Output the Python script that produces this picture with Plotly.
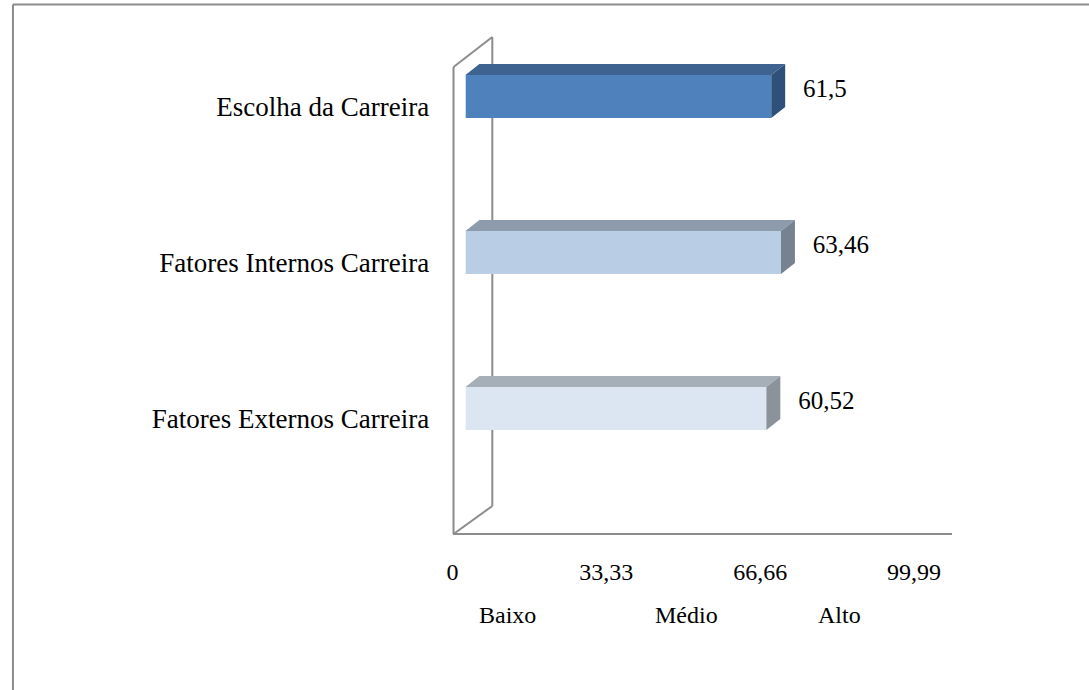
import plotly.graph_objects as go

W, H = 1089, 690

categories = ["Escolha da Carreira", "Fatores Internos Carreira", "Fatores Externos Carreira"]
values = [61.5, 63.46, 60.52]
value_labels = ["61,5", "63,46", "60,52"]
tick_values = [0, 33.33, 66.66, 99.99]
tick_labels = ["0", "33,33", "66,66", "99,99"]
level_labels = ["Baixo", "Médio", "Alto"]

front_colors = ["#4F81BD", "#B9CDE5", "#DCE6F2"]
top_colors = ["#3E6390", "#8D9BAD", "#A6AEB8"]
side_colors = ["#2F5179", "#76828F", "#8B9299"]

FONT = "Liberation Serif"
GRAY = "#8C8C8C"


def px(x):
    return x / W


def py(y):
    return 1 - y / H


# geometry of the pseudo-3D view
bar_w = 0.276        # bar thickness in category units
ddx = 2.8            # depth offset along value axis (data units)
ddy = 0.0705         # depth offset along category axis (category units)

fig = go.Figure()

pos = list(range(len(categories)))

fig.add_trace(go.Bar(
    x=values, y=pos, orientation="h", width=bar_w,
    marker=dict(color=front_colors, line=dict(width=0)),
    hoverinfo="skip", showlegend=False,
))

for i, v in enumerate(values):
    y0 = i - bar_w / 2
    y1 = i + bar_w / 2
    # top face
    fig.add_trace(go.Scatter(
        x=[0, v, v + ddx, ddx, 0], y=[y0, y0, y0 - ddy, y0 - ddy, y0],
        mode="lines", fill="toself", fillcolor=top_colors[i],
        line=dict(width=0, color=top_colors[i]), hoverinfo="skip", showlegend=False,
    ))
    # side face
    fig.add_trace(go.Scatter(
        x=[v, v + ddx, v + ddx, v, v], y=[y0, y0 - ddy, y1 - ddy, y1, y0],
        mode="lines", fill="toself", fillcolor=side_colors[i],
        line=dict(width=0, color=side_colors[i]), hoverinfo="skip", showlegend=False,
    ))

# value labels
fig.add_trace(go.Scatter(
    x=[v + ddx + 3.6 for v in values], y=[i - 0.035 for i in pos],
    mode="text", text=value_labels, textposition="middle right",
    textfont=dict(family=FONT, size=25, color="black"),
    cliponaxis=False, hoverinfo="skip", showlegend=False,
))

# dummy traces to register tick axes
fig.add_trace(go.Scatter(x=[0], y=[0], xaxis="x2", yaxis="y", mode="markers",
                         marker=dict(opacity=0), hoverinfo="skip", showlegend=False))
fig.add_trace(go.Scatter(x=[0], y=[0], xaxis="x", yaxis="y2", mode="markers",
                         marker=dict(opacity=0), hoverinfo="skip", showlegend=False))

front_scale = (913 - 449) / 99.99  # px per unit on front plane

fig.update_layout(
    width=W, height=H,
    margin=dict(l=0, r=0, t=0, b=0),
    paper_bgcolor="white", plot_bgcolor="rgba(0,0,0,0)",
    showlegend=False,
    xaxis=dict(domain=[px(462), px(962)], range=[0, 100], visible=False, fixedrange=True),
    yaxis=dict(domain=[py(534), py(38)], range=[2.804, -0.375], visible=False, fixedrange=True),
    xaxis2=dict(
        domain=[px(449), px(951)], range=[0, (951 - 449) / front_scale],
        anchor="free", position=py(534),
        tickmode="array", tickvals=tick_values, ticktext=tick_labels,
        ticks="outside", ticklen=16, tickcolor="rgba(0,0,0,0)",
        showline=True, linecolor=GRAY, linewidth=2,
        showgrid=False, zeroline=False,
        tickfont=dict(family=FONT, size=24, color="black"),
    ),
    yaxis2=dict(
        overlaying="y", anchor="free", position=px(449), side="left",
        range=[2.740, -0.439],
        tickmode="array", tickvals=pos, ticktext=categories,
        ticks="outside", ticklen=18, tickcolor="rgba(0,0,0,0)",
        showline=False, showgrid=False, zeroline=False,
        tickfont=dict(family=FONT, size=27, color="black"),
    ),
)

# walls (3D frame)
wall = [
    ((450, 534), (450, 67)),
    ((450, 67), (489, 37)),
    ((489, 37), (489, 506)),
    ((450, 534), (489, 506)),
]
for (x0, y0), (x1, y1) in wall:
    fig.add_shape(type="line", xref="paper", yref="paper",
                  x0=px(x0), y0=py(y0), x1=px(x1), y1=py(y1),
                  line=dict(color=GRAY, width=2), layer="below")

# outer border (top and left)
fig.add_shape(type="line", xref="paper", yref="paper", x0=px(7), y0=py(4.5), x1=1, y1=py(4.5),
              line=dict(color=GRAY, width=2))
fig.add_shape(type="line", xref="paper", yref="paper", x0=px(7), y0=py(4.5), x1=px(7), y1=0,
              line=dict(color=GRAY, width=2))

# level labels
for lab, xpix in zip(level_labels, [504, 684, 838]):
    fig.add_annotation(text=lab, xref="paper", yref="paper", x=px(xpix), y=py(615),
                       showarrow=False, xanchor="center", yanchor="middle",
                       font=dict(family=FONT, size=24, color="black"))

fig.write_html("out.html")
